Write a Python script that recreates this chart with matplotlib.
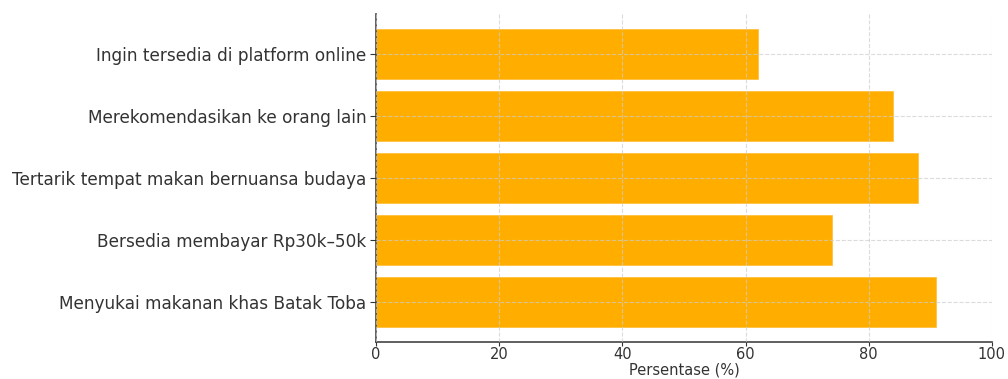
import matplotlib

matplotlib.use("Agg")
import matplotlib.pyplot as plt

categories = [
    "Menyukai makanan khas Batak Toba",
    "Bersedia membayar Rp30k\u201350k",
    "Tertarik tempat makan bernuansa budaya",
    "Merekomendasikan ke orang lain",
    "Ingin tersedia di platform online",
]
percentages = [91, 74, 88, 84, 62]
x_ticks = [0, 20, 40, 60, 80, 100]

plt.rcParams["font.family"] = "DejaVu Sans"
plt.rcParams["text.color"] = "#333333"
plt.rcParams["axes.labelcolor"] = "#333333"
plt.rcParams["xtick.color"] = "#333333"
plt.rcParams["ytick.color"] = "#333333"

fig = plt.figure(figsize=(10.08, 3.79), dpi=100)
ax = fig.add_axes([0.373, 0.098, 0.611, 0.865])

ax.barh(categories, percentages, height=0.8, color="#FFAE00",
        edgecolor="#FFC040", linewidth=0.6)
ax.set_xlim(0, 100)
ax.set_xticks(x_ticks)
ax.set_xlabel("Persentase (%)", fontsize=10.5, labelpad=0)
ax.tick_params(axis="x", labelsize=10.5, pad=1, length=3)
ax.tick_params(axis="y", labelsize=12.2, pad=3, length=4)
ax.grid(True, linestyle="--", color="#cccccc", alpha=0.7, linewidth=0.8)
ax.set_axisbelow(False)
for side in ("top", "right"):
    ax.spines[side].set_visible(False)
for side in ("left", "bottom"):
    ax.spines[side].set_color("#444444")
    ax.spines[side].set_linewidth(1.2)

fig.savefig("out.png", dpi=100)
